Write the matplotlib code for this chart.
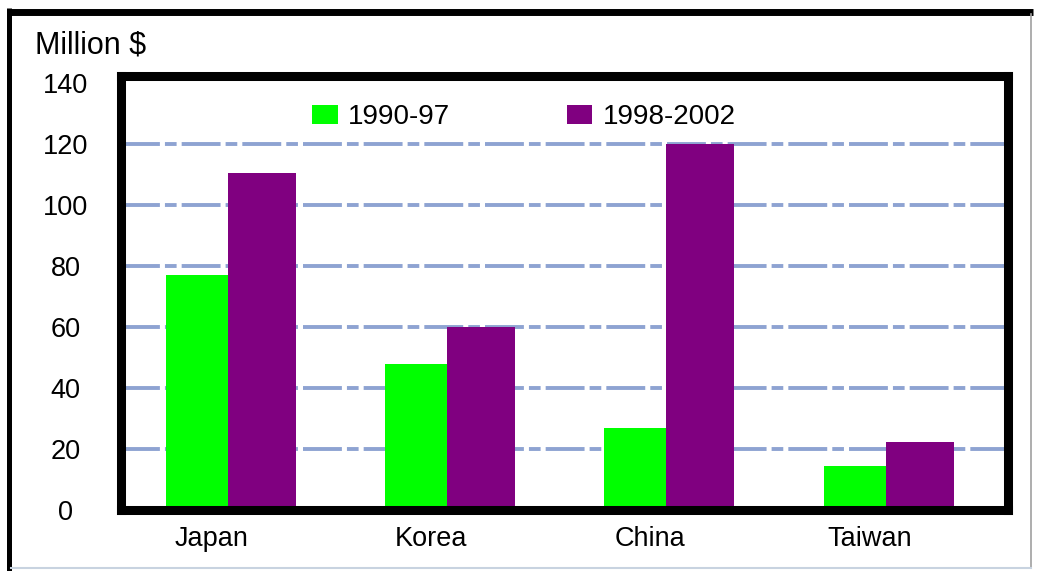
import numpy as np
import matplotlib
matplotlib.use("Agg")
import matplotlib.pyplot as plt
from matplotlib.lines import Line2D

plt.rcParams['font.family'] = ['Liberation Sans', 'DejaVu Sans']

# Data (Million $)
countries = ["Japan", "Korea", "China", "Taiwan"]
period_labels = ["1990-97", "1998-2002"]
values_1990_97 = [77, 48, 27, 14.5]
values_1998_2002 = [110.5, 60, 120, 22.5]
yticks = [0, 20, 40, 60, 80, 100, 120, 140]

GREEN = "#00ff00"
PURPLE = "#800080"
GRID = "#8ea3d2"

W, H = 1037, 571
fig = plt.figure(figsize=(W / 100, H / 100), dpi=100)

# axes placed in pixel terms of the reference
left, right, bottom, top = 121, 1008, 510.4, 76
ax = fig.add_axes([left / W, 1 - bottom / H, (right - left) / W, (bottom - top) / H])

x = np.arange(len(countries))
shift = 0.075          # bars sit a little right of the tick labels
w_green, w_purple = 0.284, 0.309

# green to the left of the junction, purple to the right
ax.bar(x + shift, values_1990_97, width=-w_green, align='edge',
       color=GREEN, linewidth=0, label=period_labels[0], zorder=2)
ax.bar(x + shift, values_1998_2002, width=w_purple, align='edge',
       color=PURPLE, linewidth=0, label=period_labels[1], zorder=2)

ax.set_xlim(-0.412, 3.632)
ax.set_ylim(0, 142.3)
ax.set_yticks(yticks)
ax.set_xticks(x)
ax.set_xticklabels(countries)

# dashed grid lines
for v in yticks[1:-1]:
    ax.axhline(v, color=GRID, lw=2.8, ls=(0, (10, 1.3, 3, 1.3)), zorder=1)

for s in ax.spines.values():
    s.set_linewidth(6.5)
    s.set_color("black")

ax.tick_params(axis='both', length=0, labelsize=19.5, colors='black')
ax.tick_params(axis='y', pad=40)
ax.tick_params(axis='x', pad=11.5)
for t in ax.get_yticklabels():
    t.set_horizontalalignment('center')

leg = ax.legend(ncol=2, frameon=False, loc='upper left',
                bbox_to_anchor=(312 / W, 1 - 104 / H), bbox_transform=fig.transFigure,
                borderpad=0, borderaxespad=0, handlelength=0.93, handleheight=0.68,
                handletextpad=0.36, columnspacing=4.2, fontsize=20)

fig.text(35 / W, 1 - 54 / H, "Million $", fontsize=22, ha='left', va='baseline')

# outer picture border
def px_line(x0, y0, x1, y1, **kw):
    fig.add_artist(Line2D([x0 / W, x1 / W], [1 - y0 / H, 1 - y1 / H],
                          transform=fig.transFigure, **kw))

px_line(7, 11.5, 1033, 11.5, color='black', lw=5, solid_capstyle='butt')
px_line(9.3, 8, 9.3, 571, color='black', lw=3.6, solid_capstyle='butt')
px_line(1031, 14, 1031, 567, color='#a0a0a0', lw=1.2)
px_line(11, 567.5, 1031, 567.5, color='#c8d3e0', lw=1.5)

fig.savefig("out.png", dpi=100)
